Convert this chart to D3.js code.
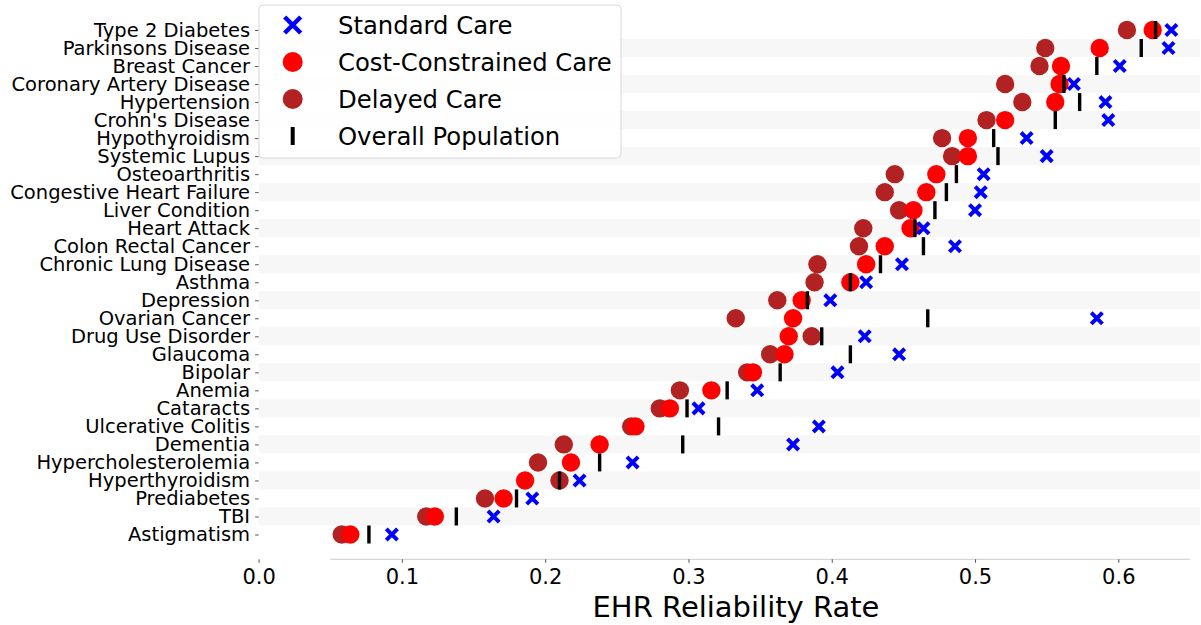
<!DOCTYPE html>
<html>
<head>
<meta charset="utf-8">
<script src="https://cdn.jsdelivr.net/npm/d3@7"></script>
<style>
  body { margin: 0; background: #fff; }
  svg { font-family: "DejaVu Sans", sans-serif; display: block; }
</style>
</head>
<body>
<div id="chart"></div>
<script>
const categories = [
    'Type 2 Diabetes', 'Parkinsons Disease', 'Breast Cancer', 'Coronary Artery Disease',
    'Hypertension', "Crohn's Disease", 'Hypothyroidism', 'Systemic Lupus', 'Osteoarthritis',
    'Congestive Heart Failure', 'Liver Condition', 'Heart Attack', 'Colon Rectal Cancer',
    'Chronic Lung Disease', 'Asthma', 'Depression', 'Ovarian Cancer', 'Drug Use Disorder',
    'Glaucoma', 'Bipolar', 'Anemia', 'Cataracts', 'Ulcerative Colitis', 'Dementia',
    'Hypercholesterolemia', 'Hyperthyroidism', 'Prediabetes', 'TBI', 'Astigmatism'
];

const standardCare = [0.637, 0.635, 0.601, 0.569, 0.591, 0.593, 0.536, 0.550, 0.506, 0.504,
    0.500, 0.464, 0.486, 0.449, 0.424, 0.399, 0.585, 0.423, 0.447, 0.404, 0.348, 0.307,
    0.391, 0.373, 0.261, 0.224, 0.191, 0.164, 0.093];
const costCare = [0.624, 0.587, 0.560, 0.559, 0.556, 0.521, 0.495, 0.495, 0.473, 0.466,
    0.457, 0.455, 0.437, 0.424, 0.413, 0.379, 0.373, 0.370, 0.367, 0.345, 0.316, 0.287,
    0.263, 0.238, 0.218, 0.186, 0.171, 0.123, 0.064];
const delayedCare = [0.606, 0.549, 0.545, 0.521, 0.533, 0.508, 0.477, 0.484, 0.444, 0.437,
    0.447, 0.422, 0.419, 0.390, 0.388, 0.362, 0.333, 0.386, 0.357, 0.341, 0.294, 0.280,
    0.260, 0.213, 0.195, 0.210, 0.158, 0.117, 0.058];
const overallPop = [0.626, 0.616, 0.585, 0.562, 0.573, 0.556, 0.513, 0.516, 0.487, 0.480,
    0.472, 0.458, 0.464, 0.434, 0.413, 0.383, 0.467, 0.393, 0.413, 0.364, 0.327, 0.299,
    0.321, 0.296, 0.238, 0.210, 0.180, 0.138, 0.077];

const xTicks = [0.0, 0.1, 0.2, 0.3, 0.4, 0.5, 0.6];
const legendLabels = ['Standard Care', 'Cost-Constrained Care', 'Delayed Care', 'Overall Population'];

const width = 1201;
const height = 625;

const svg = d3.select('#chart')
    .append('svg')
    .attr('width', width)
    .attr('height', height);

const x = d3.scaleLinear()
    .domain([0, 0.657])
    .range([258.6, 1200]);

const y = d3.scalePoint()
    .domain(categories)
    .range([30, 534.5]);

const step = y.step();

// alternating row stripes
svg.append('g')
    .selectAll('rect')
    .data(categories.filter((d, i) => i % 2 === 1))
    .enter().append('rect')
    .attr('x', x(0))
    .attr('y', d => y(d) - step / 2)
    .attr('width', x.range()[1] - x(0))
    .attr('height', step)
    .attr('fill', '#f7f7f7');

// bottom spine, trimmed
svg.append('line')
    .attr('x1', x(0.05))
    .attr('x2', x(0.65))
    .attr('y1', 559.3)
    .attr('y2', 559.3)
    .attr('stroke', '#cccccc')
    .attr('stroke-width', 1);

const xAxis = svg.append('g')
    .attr('transform', 'translate(0,559.3)')
    .call(d3.axisBottom(x).tickValues(xTicks).tickFormat(d3.format('.1f')).tickSize(3.5).tickPadding(6));
xAxis.select('.domain').remove();
xAxis.selectAll('line').attr('stroke', '#555');
xAxis.selectAll('text').attr('font-size', 21).attr('fill', '#000').attr('font-family', 'DejaVu Sans');

const yAxis = svg.append('g')
    .attr('transform', `translate(${x(0)},0)`)
    .call(d3.axisLeft(y).tickSize(3.5).tickPadding(5));
yAxis.select('.domain').remove();
yAxis.selectAll('line').attr('stroke', '#555');
yAxis.selectAll('text').attr('font-size', 19.5).attr('fill', '#000').attr('font-family', 'DejaVu Sans');

svg.append('text')
    .attr('x', 736)
    .attr('y', 617)
    .attr('text-anchor', 'middle')
    .attr('font-size', 29)
    .text('EHR Reliability Rate');

const plot = svg.append('g');

const xMarker = (s) => `M${-s},${-s}L${s},${s}M${-s},${s}L${s},${-s}`;

// delayed care
plot.selectAll('.delayed')
    .data(categories)
    .enter().append('circle')
    .attr('class', 'delayed')
    .attr('cx', (d, i) => x(delayedCare[i]))
    .attr('cy', d => y(d))
    .attr('r', 9.2)
    .attr('fill', '#b22222');

// cost-constrained care
plot.selectAll('.cost')
    .data(categories)
    .enter().append('circle')
    .attr('class', 'cost')
    .attr('cx', (d, i) => x(costCare[i]))
    .attr('cy', d => y(d))
    .attr('r', 9.2)
    .attr('fill', '#ff0000');

// overall population
plot.selectAll('.overall')
    .data(categories)
    .enter().append('rect')
    .attr('class', 'overall')
    .attr('x', (d, i) => x(overallPop[i]) - 1.7)
    .attr('y', d => y(d) - 9)
    .attr('width', 3.4)
    .attr('height', 18)
    .attr('fill', '#000');

// standard care
plot.selectAll('.standard')
    .data(categories)
    .enter().append('path')
    .attr('class', 'standard')
    .attr('transform', (d, i) => `translate(${x(standardCare[i])},${y(d)})`)
    .attr('d', xMarker(5.6))
    .attr('stroke', '#0000ff')
    .attr('stroke-width', 4)
    .attr('fill', 'none');

// legend
const legend = svg.append('g');
legend.append('rect')
    .attr('x', 259)
    .attr('y', 5)
    .attr('width', 362)
    .attr('height', 153)
    .attr('rx', 4)
    .attr('fill', '#fff')
    .attr('fill-opacity', 0.85)
    .attr('stroke', '#d6d6d6')
    .attr('stroke-width', 1);

const legendY = [25, 62, 99, 136];
const mx = 292.7;

legend.append('path')
    .attr('transform', `translate(${mx},${legendY[0]})`)
    .attr('d', xMarker(8))
    .attr('stroke', '#0000ff')
    .attr('stroke-width', 4.5)
    .attr('fill', 'none');
legend.append('circle')
    .attr('cx', mx).attr('cy', legendY[1]).attr('r', 10)
    .attr('fill', '#ff0000');
legend.append('circle')
    .attr('cx', mx).attr('cy', legendY[2]).attr('r', 10)
    .attr('fill', '#b22222');
legend.append('rect')
    .attr('x', mx - 2).attr('y', legendY[3] - 9).attr('width', 4).attr('height', 18)
    .attr('fill', '#000');

legend.selectAll('.label')
    .data(legendLabels)
    .enter().append('text')
    .attr('class', 'label')
    .attr('x', 338)
    .attr('y', (d, i) => legendY[i])
    .attr('dy', '0.35em')
    .attr('font-size', 24.3)
    .text(d => d);
</script>
</body>
</html>
